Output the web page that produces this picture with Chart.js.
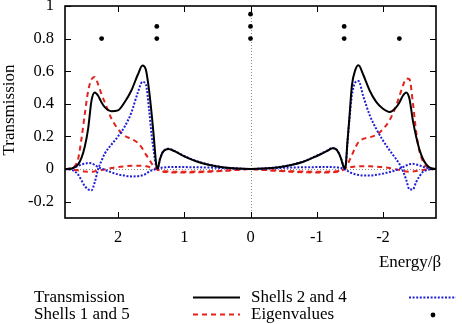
<!DOCTYPE html>
<html lang="en">
<head>
  <meta charset="UTF-8">
  <title>Transmission</title>
  <script src="https://cdn.jsdelivr.net/npm/chart.js"></script>
  <style>
    body { margin: 0; background: #fff; }
    canvas { display: block; }
  </style>
</head>
<body>
  <canvas id="transChart" width="462" height="324"></canvas>
  <script>
// energy grid (Energy/beta), left to right as plotted
const energy = [2.8, 2.7, 2.65, 2.6, 2.55, 2.5, 2.45, 2.4, 2.35, 2.3, 2.25, 2.2, 2.1, 2.0, 1.9,
  1.8, 1.7, 1.63, 1.58, 1.53, 1.49, 1.46, 1.44, 1.42, 1.40, 1.37, 1.33, 1.28, 1.24, 1.15,
  1.0, 0.8, 0.6, 0.4, 0.2, 0,
  -0.2, -0.4, -0.6, -0.8, -1.0, -1.15, -1.24, -1.28, -1.33, -1.37, -1.40, -1.42, -1.44, -1.46,
  -1.49, -1.53, -1.58, -1.63, -1.7, -1.8, -1.9, -2.0, -2.1, -2.2, -2.25, -2.3, -2.35, -2.4,
  -2.45, -2.5, -2.55, -2.6, -2.65, -2.7, -2.8];

const transmission = [0, 0.004, 0.012, 0.03, 0.07, 0.14, 0.25, 0.42, 0.47, 0.45, 0.41, 0.38, 0.355, 0.36, 0.41,
  0.48, 0.58, 0.635, 0.61, 0.48, 0.33, 0.2, 0.1, 0.02, 0.005, 0.055, 0.1, 0.12, 0.123, 0.11,
  0.078, 0.045, 0.024, 0.01, 0.003, 0,
  0.003, 0.01, 0.024, 0.045, 0.08, 0.11, 0.127, 0.125, 0.1, 0.06, 0.02, 0.003, 0.03, 0.15,
  0.3, 0.51, 0.605, 0.636, 0.58, 0.48, 0.41, 0.37, 0.35, 0.38, 0.41, 0.45, 0.47, 0.43,
  0.3, 0.2, 0.12, 0.065, 0.03, 0.01, 0];

const shells24 = [0, -0.005, -0.015, -0.035, -0.07, -0.105, -0.125, -0.13, -0.08, 0.0, 0.05, 0.095, 0.15, 0.2, 0.26,
  0.345, 0.47, 0.535, 0.52, 0.36, 0.2, 0.11, 0.05, 0.012, 0.005, 0.055, 0.1, 0.122, 0.125, 0.112,
  0.08, 0.047, 0.025, 0.011, 0.003, 0,
  0.003, 0.011, 0.025, 0.047, 0.082, 0.112, 0.13, 0.126, 0.1, 0.06, 0.02, 0.003, 0.03, 0.14,
  0.29, 0.45, 0.53, 0.54, 0.45, 0.33, 0.245, 0.175, 0.115, 0.06, 0.03, -0.01, -0.065, -0.125,
  -0.125, -0.08, -0.045, -0.018, -0.008, -0.003, 0];

const shells24b = [0, 0.005, 0.012, 0.02, 0.028, 0.033, 0.037, 0.035, 0.025, 0.012, 0.003, -0.005, -0.02, -0.033, -0.04,
  -0.045, -0.044, -0.038, -0.03, -0.015, -0.008, -0.004, -0.002, 0, 0.003, 0.006, 0.009, 0.011, 0.012, 0.012,
  0.012, 0.011, 0.009, 0.006, 0.003, 0,
  0.003, 0.006, 0.009, 0.011, 0.012, 0.012, 0.012, 0.011, 0.009, 0.006, 0.003, 0, -0.005, -0.01,
  -0.018, -0.025, -0.032, -0.036, -0.04, -0.04, -0.035, -0.028, -0.018, -0.006, 0.003, 0.012, 0.022, 0.03,
  0.032, 0.028, 0.022, 0.015, 0.008, 0.003, 0];

const shells15 = [0, 0.006, 0.02, 0.065, 0.19, 0.34, 0.48, 0.55, 0.565, 0.52, 0.46, 0.41, 0.31, 0.245, 0.205,
  0.185, 0.16, 0.125, 0.09, 0.06, 0.033, 0.017, 0.007, 0, -0.004, -0.008, -0.012, -0.014, -0.015, -0.016,
  -0.016, -0.015, -0.013, -0.009, -0.004, 0,
  -0.004, -0.009, -0.013, -0.015, -0.016, -0.016, -0.015, -0.014, -0.012, -0.008, -0.004, 0, 0.01, 0.025,
  0.05, 0.085, 0.13, 0.165, 0.185, 0.195, 0.21, 0.245, 0.3, 0.39, 0.45, 0.51, 0.555, 0.55,
  0.41, 0.23, 0.11, 0.05, 0.018, 0.006, 0];

const shells15b = [0, -0.002, -0.005, -0.008, -0.012, -0.015, -0.016, -0.016, -0.014, -0.011, -0.006, -0.002, 0.006, 0.013, 0.017,
  0.02, 0.021, 0.02, 0.017, 0.013, 0.008, 0.005, 0.002, 0, -0.005, -0.01, -0.015, -0.018, -0.02, -0.021,
  -0.021, -0.019, -0.016, -0.011, -0.005, 0,
  -0.005, -0.011, -0.016, -0.019, -0.021, -0.021, -0.02, -0.018, -0.015, -0.01, -0.005, 0, 0.003, 0.006,
  0.01, 0.013, 0.016, 0.018, 0.018, 0.017, 0.015, 0.012, 0.006, -0.002, -0.006, -0.011, -0.015, -0.016,
  -0.015, -0.012, -0.008, -0.005, -0.003, -0.001, 0];

// eigenvalues, stacked where degenerate
const eigenEnergy = [2.247, 1.414, 1.414, 0, 0, 0, -1.414, -1.414, -2.247];
const eigenLevel = [0.8, 0.8, 0.875, 0.8, 0.875, 0.95, 0.8, 0.875, 0.8];

const xTicks = [2, 1, 0, -1, -2];
const yTicks = [1, 0.8, 0.6, 0.4, 0.2, 0, -0.2];

const serif = "'Liberation Serif', 'Times New Roman', serif";
const BLUE = '#1f1fd8';
const RED = '#e3231c';

const pts = ys => energy.map((e, i) => ({ x: e, y: ys[i] }));

// gnuplot-ish frame, inward ticks, zero lines, titles and key
const gnuFrame = {
  id: 'gnuFrame',
  beforeDatasetsDraw(chart) {
    const { ctx, chartArea: a, scales: { x, y } } = chart;
    ctx.save();
    ctx.strokeStyle = '#8a8a8a';
    ctx.lineWidth = 1;
    ctx.setLineDash([1, 2]);
    const y0 = Math.round(y.getPixelForValue(0)) + 0.5;
    const x0 = Math.round(x.getPixelForValue(0)) + 0.5;
    ctx.beginPath();
    ctx.moveTo(a.left, y0); ctx.lineTo(a.right, y0);
    ctx.moveTo(x0, a.top); ctx.lineTo(x0, a.bottom);
    ctx.stroke();
    ctx.restore();
  },
  afterDraw(chart) {
    const { ctx, chartArea: a, scales: { x, y } } = chart;
    ctx.save();
    ctx.strokeStyle = '#000';
    ctx.lineWidth = 1;
    ctx.beginPath();
    yTicks.forEach(v => {
      const py = Math.round(y.getPixelForValue(v)) + 0.5;
      ctx.moveTo(a.left, py); ctx.lineTo(a.left + 6, py);
      ctx.moveTo(a.right, py); ctx.lineTo(a.right - 6, py);
    });
    xTicks.forEach(v => {
      const px = Math.round(x.getPixelForValue(v)) + 0.5;
      ctx.moveTo(px, a.bottom); ctx.lineTo(px, a.bottom - 6);
      ctx.moveTo(px, a.top); ctx.lineTo(px, a.top + 6);
    });
    ctx.stroke();
    ctx.lineWidth = 1.6;
    ctx.strokeRect(a.left, a.top, a.right - a.left, a.bottom - a.top);

    ctx.fillStyle = '#000';
    ctx.font = '17px ' + serif;
    ctx.textBaseline = 'middle';
    ctx.textAlign = 'center';
    ctx.fillText('Energy/\u03b2', 410, 263);
    ctx.save();
    ctx.translate(10, 110);
    ctx.rotate(-Math.PI / 2);
    ctx.fillText('Transmission', 0, 0);
    ctx.restore();

    // key: text first, sample after, two columns
    const ds = chart.data.datasets;
    const key = [
      { d: ds[0], tx: 34, sx: 193, y: 298 },
      { d: ds[1], tx: 251, sx: 409, y: 298 },
      { d: ds[3], tx: 34, sx: 193, y: 315 },
      { d: ds[5], tx: 251, sx: 409, y: 315 }
    ];
    ctx.textAlign = 'left';
    key.forEach(k => {
      ctx.fillStyle = '#000';
      ctx.fillText(k.d.label, k.tx, k.y);
      if (k.d.showLine === false) {
        ctx.beginPath();
        ctx.arc(k.sx + 24, k.y, k.d.pointRadius, 0, Math.PI * 2);
        ctx.fillStyle = k.d.backgroundColor;
        ctx.fill();
      } else {
        ctx.strokeStyle = k.d.borderColor;
        ctx.lineWidth = k.d.borderWidth;
        ctx.setLineDash(k.d.borderDash || []);
        ctx.beginPath();
        ctx.moveTo(k.sx, k.y - 0.5); ctx.lineTo(k.sx + 47, k.y - 0.5);
        ctx.stroke();
        ctx.setLineDash([]);
      }
    });
    ctx.restore();
  }
};

const lineStyle = { pointRadius: 0, fill: false, cubicInterpolationMode: 'monotone' };

new Chart(document.getElementById('transChart'), {
  type: 'line',
  data: {
    datasets: [
      { label: 'Transmission', data: pts(transmission), borderColor: '#000', borderWidth: 2, ...lineStyle },
      { label: 'Shells 2 and 4', data: pts(shells24), borderColor: BLUE, borderWidth: 2, borderDash: [2, 1.6], ...lineStyle },
      { label: 'Shells 2 and 4', data: pts(shells24b), borderColor: BLUE, borderWidth: 2, borderDash: [2, 1.6], ...lineStyle },
      { label: 'Shells 1 and 5', data: pts(shells15), borderColor: RED, borderWidth: 2, borderDash: [5, 4], ...lineStyle },
      { label: 'Shells 1 and 5', data: pts(shells15b), borderColor: RED, borderWidth: 2, borderDash: [5, 4], ...lineStyle },
      {
        type: 'scatter', label: 'Eigenvalues', showLine: false,
        data: eigenEnergy.map((e, i) => ({ x: e, y: eigenLevel[i] })),
        pointRadius: 2.4, backgroundColor: '#000', borderColor: '#000', borderWidth: 0
      }
    ]
  },
  options: {
    responsive: false,
    animation: false,
    devicePixelRatio: 1,
    layout: { padding: { top: 6, right: 26, bottom: 76, left: 0 } },
    plugins: { legend: { display: false }, tooltip: { enabled: false } },
    scales: {
      x: {
        type: 'linear', reverse: true, min: -2.8, max: 2.8,
        grid: { display: false, drawTicks: false },
        border: { display: false },
        afterBuildTicks: s => { s.ticks = xTicks.map(v => ({ value: v })); },
        afterFit: s => { s.height = 30; s.paddingLeft = 0; s.paddingRight = 0; },
        ticks: { color: '#000', font: { family: serif, size: 16.5 }, padding: 10, maxRotation: 0, callback: v => String(v) }
      },
      y: {
        min: -0.3, max: 1,
        grid: { display: false, drawTicks: false },
        border: { display: false },
        afterBuildTicks: s => { s.ticks = yTicks.map(v => ({ value: v })); },
        afterFit: s => { s.width = 65; s.paddingTop = 0; s.paddingBottom = 0; },
        ticks: { color: '#000', font: { family: serif, size: 16.5 }, padding: 11, callback: v => String(v) }
      }
    }
  },
  plugins: [gnuFrame]
});
  </script>
</body>
</html>
